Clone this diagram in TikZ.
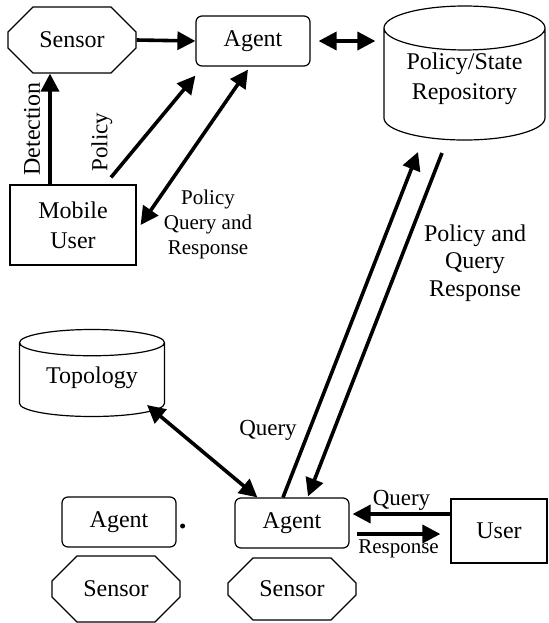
\documentclass[tikz,border=0pt]{standalone}
\usepackage{fontspec}
\setmainfont{Liberation Serif}
\usetikzlibrary{arrows.meta,shapes.geometric,shapes.misc,calc}

\tikzset{
  sensor/.style={draw, line width=0.6pt, chamfered rectangle,
    chamfered rectangle xsep=8.5pt, chamfered rectangle ysep=8.5pt,
    minimum width=64pt, minimum height=33pt, inner sep=0pt},
  agent/.style={draw, line width=0.6pt, rounded corners=3pt,
    minimum width=57pt, minimum height=25pt},
  store/.style={draw, line width=0.6pt, cylinder, shape border rotate=90,
    anchor=shape center, align=center},
  user/.style={draw, line width=0.6pt, align=center},
  arr/.style={line width=1.8pt, -{Triangle[length=9pt,width=9pt]}},
  dbl/.style={line width=1.8pt, {Triangle[length=9pt,width=9pt]}-{Triangle[length=9pt,width=9pt]}},
  lbl/.style={align=center, font=\fontsize{10.5}{12.5}\selectfont},
}
\newcommand{\lift}[2]{\raisebox{#1}[\height][\depth]{#2}}

\begin{document}
\begin{tikzpicture}[x=0.5pt, y=-0.5pt, font=\fontsize{12}{15}\selectfont]
\useasboundingbox (0,0) rectangle (548,623);

\node[sensor] (sensA) at (72,40) {Sensor};
\node[agent] (agentA) at (253,41) {Agent};
\node[store, minimum width=80.5pt, minimum height=67pt, shape aspect=0.34] (repo) at (464.5,73)
  {\lift{5pt}{Policy/State}\\\lift{5pt}{Repository}};
\node[user, minimum width=63pt, minimum height=40pt] (mobile) at (73,225) {Mobile\\User};
\node[store, minimum width=72.5pt, minimum height=43.5pt, shape aspect=0.25] (topo) at (92,373)
  {\lift{2.5pt}{Topology}};

\node[agent] (agentL) at (119,522) {Agent};
\node[sensor] (sensL) at (116,589) {Sensor};
\node[agent] (agentB) at (292,523) {Agent};
\node[sensor, minimum height=31pt] (sensB) at (292,589) {Sensor};
\node[user, minimum width=48pt, minimum height=32pt] (user) at (499,531) {User};

\draw[arr] (sensA.east) -- (agentA.west);
\draw[dbl, shorten <=4pt, shorten >=4pt] (agentA.east) -- (agentA.east -| repo.west);

\draw[arr] ($(mobile.north)+(-23,0)$) coordinate (d) -- (d |- sensA.south)
  node[midway, sloped, above, inner sep=4pt] {Detection};
\draw[arr] ($(mobile.north)+(38,-7)$) -- ($(agentA.south west)+(0,9)$);
\node[rotate=90, font=\fontsize{11.5}{14}\selectfont] (pol) at (102,142) {Policy};
\draw[dbl] ($(mobile.east)+(4,0)$) -- ($(agentA.south)+(-5,3)$);
\node[lbl] (pqr) at (208,224) {Policy\\Query and\\Response};

\draw[dbl] ($(topo.shape center)+(55,32)$) -- ($(agentB.north west)+(23,0)$);
\draw[arr] ($(agentB.north)+(-9,0)$) -- ($(repo.shape center)+(-46.5,79)$);
\draw[arr] ($(repo.shape center)+(-22.5,80)$) -- ($(agentB.north)+(16,-1)$);
\node[font=\fontsize{11.5}{14}\selectfont] (q1) at (268,430) {Query};
\node[align=center, font=\fontsize{12}{13.75}\selectfont] (pqr2) at (475,263) {Policy and\\Query\\Response};

\draw[arr] ($(user.west)+(0,-17)$) -- ($(agentB.east)+(3,-9)$)
  node[midway, above, inner sep=1pt, font=\fontsize{11.5}{14}\selectfont] {Query};
\draw[arr] ($(agentB.east)+(7,11)$) -- ($(user.west)+(-10,3)$)
  node[midway, below, inner sep=2pt, lbl] {Response};

\fill ($(agentL.east)+(6,4)$) circle (2.5);
\end{tikzpicture}
\end{document}
